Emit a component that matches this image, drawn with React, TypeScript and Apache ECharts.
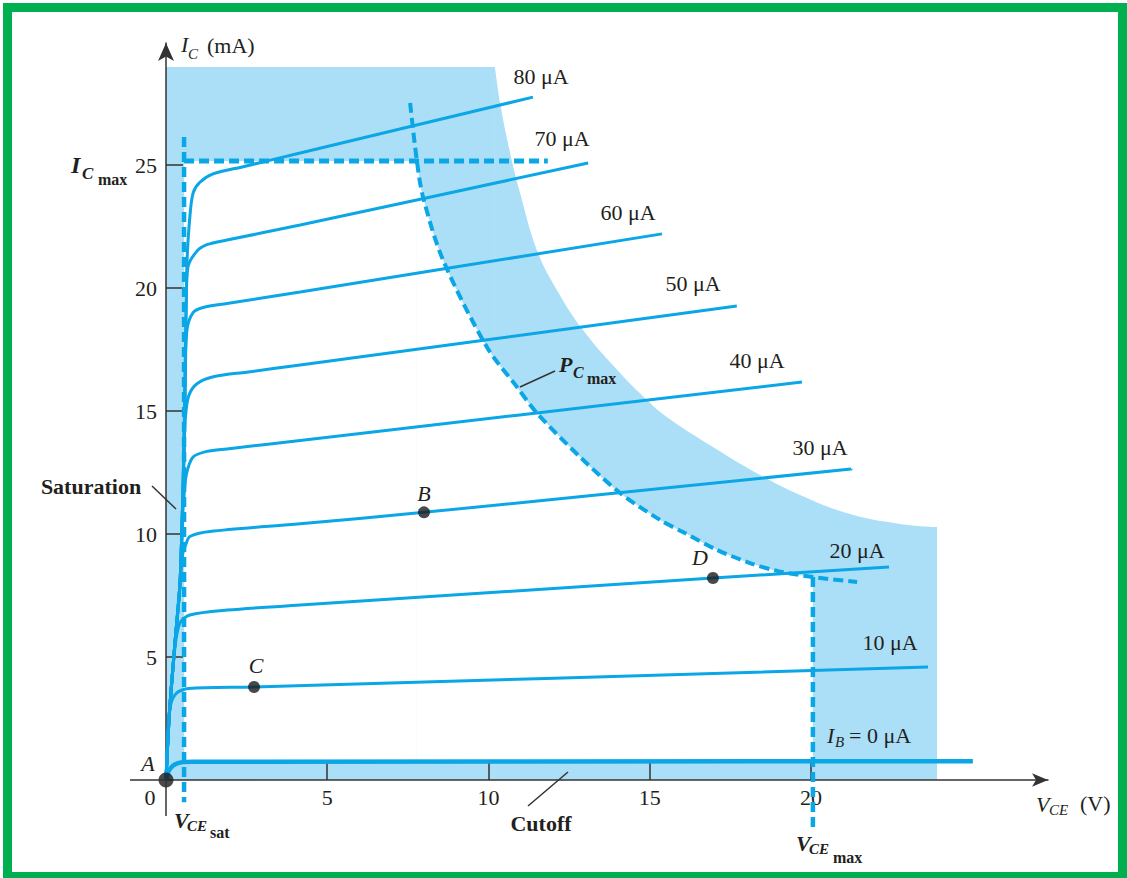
import React, { useEffect, useRef } from "react";
import * as echarts from "echarts";

// ---- axis ticks ----
const X_TICKS = [5, 10, 15, 20];
const Y_TICKS = [5, 10, 15, 20, 25];

// ---- collector characteristic curves (V_CE [V], I_C [mA]) ----
const IB_0 = [[0, 0], [0.12, 0.45], [0.35, 0.68], [0.8, 0.74], [25.02, 0.76]];
const IB_10 = [[0, 0], [0.05, 1.5], [0.12, 2.9], [0.3, 3.5], [0.7, 3.72], [2.73, 3.78], [23.63, 4.59]];
const IB_20 = [[0, 0], [0.1, 2.6], [0.28, 5.4], [0.43, 6.38], [0.74, 6.71], [1.9, 6.91], [4.16, 7.11], [16.96, 8.21], [22.42, 8.66]];
const IB_30 = [[0, 0], [0.1, 2.6], [0.28, 5.6], [0.43, 7.9], [0.52, 9.2], [0.62, 9.6], [0.74, 9.9], [1.36, 10.1], [4.16, 10.42], [8.0, 10.88], [21.24, 12.64]];
const IB_40 = [[0, 0], [0.1, 2.6], [0.28, 5.6], [0.43, 7.9], [0.5, 10.3], [0.56, 11.6], [0.64, 12.47], [0.84, 13.13], [1.27, 13.36], [1.89, 13.46], [4.16, 13.8], [19.72, 16.18]];
const IB_50 = [[0, 0], [0.1, 2.6], [0.28, 5.6], [0.43, 7.9], [0.5, 10.5], [0.55, 13.0], [0.6, 14.7], [0.7, 15.6], [0.95, 16.1], [1.5, 16.4], [2.5, 16.58], [4.16, 16.87], [17.7, 19.27]];
const IB_60 = [[0, 0], [0.1, 2.6], [0.28, 5.6], [0.43, 7.9], [0.5, 10.5], [0.55, 13.0], [0.6, 16.5], [0.65, 18.3], [0.84, 19.0], [1.15, 19.21], [1.89, 19.37], [4.16, 19.84], [15.38, 22.2]];
const IB_70 = [[0, 0], [0.1, 2.6], [0.28, 5.6], [0.43, 7.9], [0.5, 10.5], [0.55, 13.0], [0.6, 17.0], [0.63, 19.5], [0.68, 20.85], [0.96, 21.5], [1.27, 21.76], [1.89, 21.95], [4.16, 22.56], [13.09, 25.08]];
const IB_80 = [[0, 0], [0.1, 2.6], [0.28, 5.6], [0.43, 7.9], [0.5, 10.5], [0.55, 13.0], [0.6, 17.0], [0.65, 21.0], [0.74, 22.9], [0.84, 23.86], [1.05, 24.3], [1.46, 24.64], [2.39, 24.93], [4.16, 25.49], [11.38, 27.76]];

// ---- operating points ----
const POINTS = [
  { name: "A", value: [0, 0] },
  { name: "B", value: [8.0, 10.88] },
  { name: "C", value: [2.73, 3.78] },
  { name: "D", value: [16.96, 8.21] },
];

// ---- limits ----
const IC_MAX_LINE = [[0.56, 25.16], [11.84, 25.16]];
const VCE_SAT_LINE = [[0.56, 26.14], [0.56, -0.9]];
const VCE_MAX_LINE = [[20.06, 8.25], [20.06, -2.03]];
const PC_MAX = [[7.57, 27.52], [7.78, 25.16], [7.97, 23.7], [8.59, 21.14], [9.95, 17.6], [10.88, 15.98], [11.5, 14.92], [12.84, 13.13], [14.08, 11.67], [15.32, 10.57], [16.03, 10.08], [17.09, 9.35], [18.11, 8.82], [18.95, 8.5], [20.06, 8.25], [21.43, 8.05]];

// ---- shaded (outside safe operating area) region ----
const SHADE_TOP_BLOCK = [[0, 0], [0, 28.98], [10.2, 28.98], [10.2, 0]];
const SHADE_EDGE = [[10.2, 28.98], [10.36, 27.52], [10.67, 25.49], [10.98, 23.86], [11.5, 21.54], [12.12, 19.92], [12.93, 18.29], [14.08, 16.54], [14.91, 15.45], [15.53, 14.76], [16.96, 13.54], [18.42, 12.4], [19.66, 11.59], [21.21, 10.81], [22.76, 10.41], [23.91, 10.28]];
const SAFE_BLOCK = [[0.56, 0.76], [0.56, 25.16], [7.78, 25.16], [7.78, 0.76]];
const SAFE_EDGE = PC_MAX.slice(1, 15);
const SAFE_BASE = 0.76;

const CURVES = [IB_0, IB_10, IB_20, IB_30, IB_40, IB_50, IB_60, IB_70, IB_80];

const BLUE = "#0aa6e6";
const SHADE = "#abdff7";
const INK = "#231f20";
const SERIF = '"Liberation Serif", "Times New Roman", serif';

const X_MAX = 27.35;
const Y_MAX = 29.96;

function txt(text: string, x: number, y: number, size: number, opts: any = {}) {
  const style = opts.style || "normal";
  const weight = opts.weight || "normal";
  const align = opts.align || "left";
  return {
    type: "text",
    x,
    y,
    z: 100,
    silent: true,
    style: {
      text,
      fill: INK,
      font: `${style} ${weight} ${size}px ${SERIF}`,
      align,
      textAlign: align,
      verticalAlign: "middle",
      textVerticalAlign: "middle",
    },
  };
}

function seg(x1: number, y1: number, x2: number, y2: number, color = "#333") {
  return {
    type: "line",
    z: 100,
    silent: true,
    shape: { x1, y1, x2, y2 },
    style: { stroke: color, lineWidth: 1.5 },
  };
}

export default function App() {
  const ref = useRef<HTMLDivElement>(null);

  useEffect(() => {
    if (!ref.current) return;
    const chart = echarts.init(ref.current, undefined, { renderer: "svg" });

    const polygonSeries = (pts: number[][], fill: string, z: number) => ({
      type: "custom",
      z,
      silent: true,
      clip: false,
      data: [[0, 0]],
      renderItem: (_p: any, api: any) => ({
        type: "polygon",
        shape: { points: pts.map((p) => api.coord(p)) },
        style: { fill, stroke: "none" },
      }),
    });

    const areaSeries = (pts: number[][], fill: string, z: number, origin: any, smooth: number) => ({
      type: "line",
      z,
      silent: true,
      clip: false,
      data: pts,
      smooth,
      showSymbol: false,
      lineStyle: { width: 0, opacity: 0 },
      areaStyle: { color: fill, opacity: 1, origin },
    });

    const curveSeries = CURVES.map((d, i) => ({
      type: "line",
      z: 4,
      data: d,
      smooth: 0.3,
      showSymbol: false,
      silent: true,
      clip: false,
      lineStyle: { color: BLUE, width: i === 0 ? 4.5 : 3 },
    }));

    const dashed = (d: number[][], width: number, smooth: number | boolean) => ({
      type: "line",
      z: 5,
      data: d,
      smooth,
      showSymbol: false,
      silent: true,
      clip: false,
      lineStyle: { color: BLUE, width, type: [10, 5] },
    });

    const axisCommon = {
      type: "value",
      z: 3,
      min: 0,
      splitLine: { show: false },
      axisTick: { show: true, inside: true, length: 17, lineStyle: { color: "#333", width: 1.5 } },
    };
    const axisLineBase = { show: true, symbol: ["none", "arrow"], lineStyle: { color: "#333", width: 1.5 } };
    const labelStyle = { color: INK, fontFamily: SERIF, fontSize: 22 };

    const option: any = {
      animation: false,
      backgroundColor: "#ffffff",
      grid: { left: 166, right: 79, top: 43, bottom: 98, containLabel: false },
      xAxis: {
        ...axisCommon,
        max: X_MAX,
        axisLine: { ...axisLineBase, symbolSize: [10, 16] },
        axisTick: { ...axisCommon.axisTick, customValues: X_TICKS },
        axisLabel: { ...labelStyle, customValues: X_TICKS, margin: 6 },
      },
      yAxis: {
        ...axisCommon,
        max: Y_MAX,
        axisLine: { ...axisLineBase, symbolSize: [12, 18] },
        axisTick: { ...axisCommon.axisTick, customValues: Y_TICKS },
        axisLabel: { ...labelStyle, customValues: Y_TICKS, margin: 9 },
      },
      series: [
        polygonSeries(SHADE_TOP_BLOCK, SHADE, 1),
        areaSeries(SHADE_EDGE, SHADE, 1, 0, 0.4),
        polygonSeries(SAFE_BLOCK, "#ffffff", 2),
        areaSeries(SAFE_EDGE, "#ffffff", 2, SAFE_BASE, 0.3),
        ...curveSeries,
        dashed(IC_MAX_LINE, 5, false),
        dashed(VCE_SAT_LINE, 4.5, false),
        dashed(VCE_MAX_LINE, 4.5, false),
        dashed(PC_MAX, 4, 0.3),
        {
          type: "scatter",
          z: 6,
          silent: true,
          clip: false,
          data: POINTS.map((p) => ({ name: p.name, value: p.value, symbolSize: p.name === "A" ? 15 : 12 })),
          itemStyle: { color: "#1c1c1c" },
        },
      ],
      graphic: [
        {
          type: "rect",
          z: 200,
          silent: true,
          shape: { x: 7.5, y: 7.5, width: 1115, height: 869 },
          style: { fill: "none", stroke: "#00b050", lineWidth: 9 },
        },
        // axis line extensions past the origin
        seg(130, 780, 166, 780),
        seg(166, 780, 166, 816),
        // curve labels
        txt("80 μA", 541, 76, 22, { align: "center" }),
        txt("70 μA", 562, 138, 22, { align: "center" }),
        txt("60 μA", 628, 212, 22, { align: "center" }),
        txt("50 μA", 693, 283, 22, { align: "center" }),
        txt("40 μA", 757, 360, 22, { align: "center" }),
        txt("30 μA", 820, 447, 22, { align: "center" }),
        txt("20 μA", 857, 550, 22, { align: "center" }),
        txt("10 μA", 890, 642, 22, { align: "center" }),
        txt("I", 827, 735, 22, { style: "italic" }),
        txt("B", 835, 742, 15, { style: "italic" }),
        txt("= 0 μA", 849, 735, 22),
        // point labels
        txt("A", 148, 763, 22, { style: "italic", align: "center" }),
        txt("B", 424, 493, 22, { style: "italic", align: "center" }),
        txt("C", 256, 665, 22, { style: "italic", align: "center" }),
        txt("D", 700, 557, 22, { style: "italic", align: "center" }),
        txt("0", 150, 797, 22, { align: "center" }),
        // axis titles
        txt("I", 181, 44, 22, { style: "italic" }),
        txt("C", 188, 54, 15, { style: "italic" }),
        txt("(mA)", 207, 45, 22),
        txt("V", 1036, 804, 22, { style: "italic" }),
        txt("CE", 1049, 810, 15, { style: "italic" }),
        txt("(V)", 1080, 803, 22),
        // V_CEsat
        txt("V", 174, 820, 22, { style: "italic", weight: "bold" }),
        txt("CE", 187, 826, 15, { style: "italic", weight: "bold" }),
        txt("sat", 210, 832, 16, { weight: "bold" }),
        // V_CEmax
        txt("V", 796, 843, 22, { style: "italic", weight: "bold" }),
        txt("CE", 809, 849, 15, { style: "italic", weight: "bold" }),
        txt("max", 833, 857, 16, { weight: "bold" }),
        // I_Cmax
        txt("I", 71, 165, 24, { style: "italic", weight: "bold" }),
        txt("C", 82, 173, 17, { style: "italic", weight: "bold" }),
        txt("max", 98, 179, 16, { weight: "bold" }),
        // P_Cmax
        txt("P", 559, 364, 22, { style: "italic", weight: "bold" }),
        txt("C", 573, 372, 16, { style: "italic", weight: "bold" }),
        txt("max", 587, 378, 16, { weight: "bold" }),
        seg(520, 387, 555, 371),
        // region labels
        txt("Saturation", 91, 486, 22, { weight: "bold", align: "center" }),
        seg(152, 486, 176, 509),
        txt("Cutoff", 541, 823, 22, { weight: "bold", align: "center" }),
        seg(528, 806, 568, 772),
      ],
    };

    chart.setOption(option);
    return () => chart.dispose();
  }, []);

  return (
    <div
      ref={ref}
      style={{ position: "absolute", left: 0, top: 0, width: 1127, height: 878, background: "#fff" }}
    />
  );
}
